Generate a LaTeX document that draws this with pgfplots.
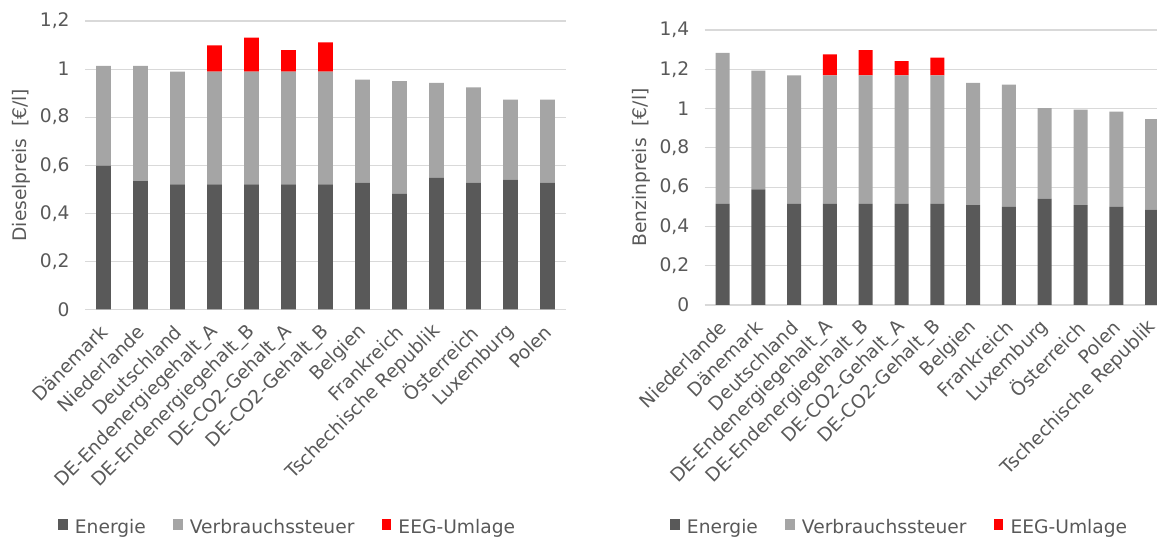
\documentclass[border=0pt]{standalone}
\usepackage{fontspec}
\setmainfont{DejaVu Sans}
\usepackage{pgfplots}
\pgfplotsset{compat=1.18}
\usepackage{pgfplotstable}

\definecolor{energie}{HTML}{595959}
\definecolor{steuer}{HTML}{A5A5A5}
\definecolor{eeg}{HTML}{FF0000}
\definecolor{gridgray}{HTML}{D9D9D9}
\definecolor{txt}{HTML}{595959}

% Diesel: Energie, Verbrauchssteuer, EEG-Umlage in EUR/l
\pgfplotstableread{
x energie steuer eeg
0  0.598 0.415 0
1  0.534 0.479 0
2  0.520 0.469 0
3  0.520 0.469 0.110
4  0.520 0.469 0.142
5  0.520 0.469 0.090
6  0.520 0.469 0.122
7  0.527 0.429 0
8  0.481 0.469 0
9  0.547 0.396 0
10 0.527 0.397 0
11 0.540 0.333 0
12 0.527 0.346 0
}\diesel

% Benzin: Energie, Verbrauchssteuer, EEG-Umlage in EUR/l
\pgfplotstableread{
x energie steuer eeg
0  0.515 0.768 0
1  0.588 0.605 0
2  0.515 0.654 0
3  0.515 0.654 0.107
4  0.515 0.654 0.129
5  0.515 0.654 0.073
6  0.515 0.654 0.090
7  0.508 0.623 0
8  0.500 0.622 0
9  0.541 0.461 0
10 0.508 0.487 0
11 0.500 0.485 0
12 0.485 0.461 0
}\benzin

\newcommand{\chartfont}{\fontsize{14}{16.8}\selectfont}

\pgfplotsset{
  preischart/.style={
    scale only axis,
    anchor=south west,
    ybar stacked,
    xmin=-0.5, xmax=12.5,
    ymin=0,
    enlargelimits=false,
    axis line style={draw=none},
    major tick length=0pt,
    ymajorgrids,
    grid style={gridgray, line width=0.9pt},
    xtick=data,
    /pgf/number format/use comma,
    /pgf/number format/assume math mode=true,
    tick label style={font=\chartfont, text=txt},
    yticklabel style={xshift=-8pt},
    xticklabel style={xshift=2pt, yshift=-13pt, rotate=45, anchor=east, inner sep=2pt},
    ylabel style={font=\chartfont, text=txt},
    legend columns=3,
    legend style={draw=none, fill=none, font=\chartfont, text=txt,
      anchor=center, inner sep=0pt,
      /tikz/every odd column/.append style={column sep=3.5pt},
      /tikz/every even column/.append style={column sep=18.5pt}},
    legend image code/.code={\fill[##1] (0pt,-2.5pt) rectangle (7pt,5.9pt);},
  },
}

\begin{document}
\begin{tikzpicture}
\begin{axis}[preischart,
  at={(63.75pt,171.5pt)},
  width=360.75pt, height=216.2pt,
  ymax=1.2, ytick={0,0.2,...,1.2},
  bar width=10.9pt,
  ylabel={Dieselpreis\ \ [€/l]},
  xticklabels={Dänemark,Niederlande,Deutschland,DE-Endenergiegehalt\_A,DE-Endenergiegehalt\_B,DE-CO2-Gehalt\_A,DE-CO2-Gehalt\_B,Belgien,Frankreich,Tschechische Republik,Österreich,Luxemburg,Polen},
  legend style={at={(0.422,-0.755)}},
]
\addplot[fill=energie, draw=none] table[x=x, y=energie] {\diesel};
\addplot[fill=steuer, draw=none] table[x=x, y=steuer] {\diesel};
\addplot[fill=eeg, draw=none] table[x=x, y=eeg] {\diesel};
\legend{Energie,Verbrauchssteuer,EEG-Umlage}
\end{axis}

\begin{axis}[preischart,
  at={(528.45pt,174.75pt)},
  width=349.05pt, height=206.25pt,
  ymax=1.4, ytick={0,0.2,...,1.4},
  bar width=10.5pt,
  ylabel={Benzinpreis\ \ [€/l]},
  xticklabels={Niederlande,Dänemark,Deutschland,DE-Endenergiegehalt\_A,DE-Endenergiegehalt\_B,DE-CO2-Gehalt\_A,DE-CO2-Gehalt\_B,Belgien,Frankreich,Luxemburg,Österreich,Polen,Tschechische Republik},
  legend style={at={(0.42,-0.807)}},
]
\addplot[fill=energie, draw=none] table[x=x, y=energie] {\benzin};
\addplot[fill=steuer, draw=none] table[x=x, y=steuer] {\benzin};
\addplot[fill=eeg, draw=none] table[x=x, y=eeg] {\benzin};
\legend{Energie,Verbrauchssteuer,EEG-Umlage}
\end{axis}

\pgfresetboundingbox
\path[use as bounding box] (0,0) rectangle (867.75pt,403.5pt);
\end{tikzpicture}
\end{document}
